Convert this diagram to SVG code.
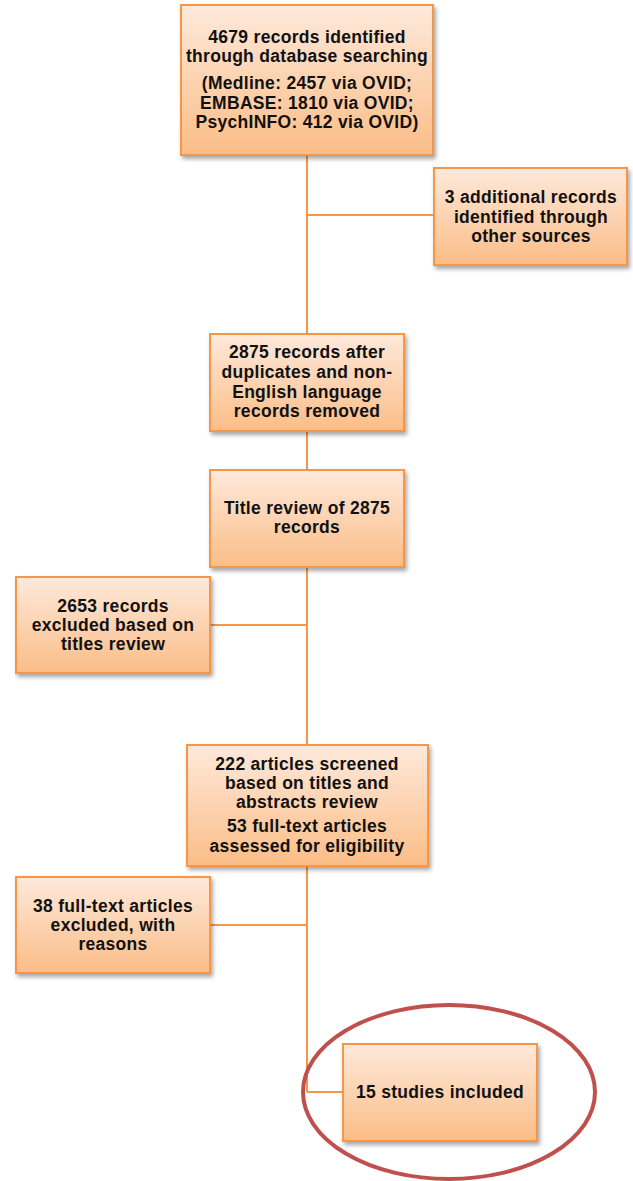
<svg xmlns="http://www.w3.org/2000/svg" width="633" height="1181" viewBox="0 0 633 1181">
<defs>
<linearGradient id="g" x1="0" y1="0" x2="0" y2="1">
<stop offset="0" stop-color="#fee9db"/>
<stop offset="1" stop-color="#fbbd87"/>
</linearGradient>
<filter id="sh" x="-10%" y="-10%" width="130%" height="130%">
<feGaussianBlur in="SourceAlpha" stdDeviation="2"/>
<feOffset dx="2" dy="3" result="b"/>
<feComponentTransfer><feFuncA type="linear" slope="0.35"/></feComponentTransfer>
<feMerge><feMergeNode/><feMergeNode in="SourceGraphic"/></feMerge>
</filter>
</defs>
<style>
.box{fill:url(#g);stroke:#f79646;stroke-width:2;filter:url(#sh)}
.t{font-family:"Liberation Sans",Arial,sans-serif;font-weight:bold;font-size:17.5px;letter-spacing:0.3px;fill:#111;text-anchor:middle}
.c{stroke:#f79646;stroke-width:2;fill:none}
</style>
<g id="connectors">
<path class="c" d="M307 155 V1092"/>
<path class="c" d="M307 215 H434"/>
<path class="c" d="M210 625 H307"/>
<path class="c" d="M210 925 H307"/>
<path class="c" d="M307 1092 H343"/>
</g>
<g id="n1">
<rect class="box" x="181" y="5" width="252" height="150"/>
<text class="t"><tspan x="307" y="43">4679 records identified</tspan><tspan x="307" y="62">through database searching</tspan><tspan x="307" y="89">(Medline: 2457 via OVID;</tspan><tspan x="307" y="109">EMBASE: 1810 via OVID;</tspan><tspan x="307" y="128">PsychINFO: 412 via OVID)</tspan></text>
</g>
<g id="n2">
<rect class="box" x="434" y="168" width="193" height="97"/>
<text class="t"><tspan x="531" y="203">3 additional records</tspan><tspan x="531" y="223">identified through</tspan><tspan x="531" y="242">other sources</tspan></text>
</g>
<g id="n3">
<rect class="box" x="210" y="334" width="194" height="97"/>
<text class="t"><tspan x="307" y="358">2875 records after</tspan><tspan x="307" y="378">duplicates and non-</tspan><tspan x="307" y="398">English language</tspan><tspan x="307" y="417">records removed</tspan></text>
</g>
<g id="n4">
<rect class="box" x="210" y="470" width="194" height="97"/>
<text class="t"><tspan x="307" y="514">Title review of 2875</tspan><tspan x="307" y="533">records</tspan></text>
</g>
<g id="n5">
<rect class="box" x="16" y="577" width="194" height="96"/>
<text class="t"><tspan x="113" y="612">2653 records</tspan><tspan x="113" y="631">excluded based on</tspan><tspan x="113" y="650">titles review</tspan></text>
</g>
<g id="n6">
<rect class="box" x="187" y="745" width="241" height="121"/>
<text class="t"><tspan x="307" y="770">222 articles screened</tspan><tspan x="307" y="789">based on titles and</tspan><tspan x="307" y="808">abstracts review</tspan><tspan x="307" y="832">53 full-text articles</tspan><tspan x="307" y="852">assessed for eligibility</tspan></text>
</g>
<g id="n7">
<rect class="box" x="16" y="877" width="194" height="96"/>
<text class="t"><tspan x="113" y="912">38 full-text articles</tspan><tspan x="113" y="931">excluded, with</tspan><tspan x="113" y="950">reasons</tspan></text>
</g>
<g id="n8">
<rect class="box" x="343" y="1044" width="194" height="97"/>
<text class="t"><tspan x="440" y="1098">15 studies included</tspan></text>
</g>
<ellipse cx="449" cy="1092" rx="146" ry="87" fill="none" stroke="#c0504d" stroke-width="4"/>
</svg>
